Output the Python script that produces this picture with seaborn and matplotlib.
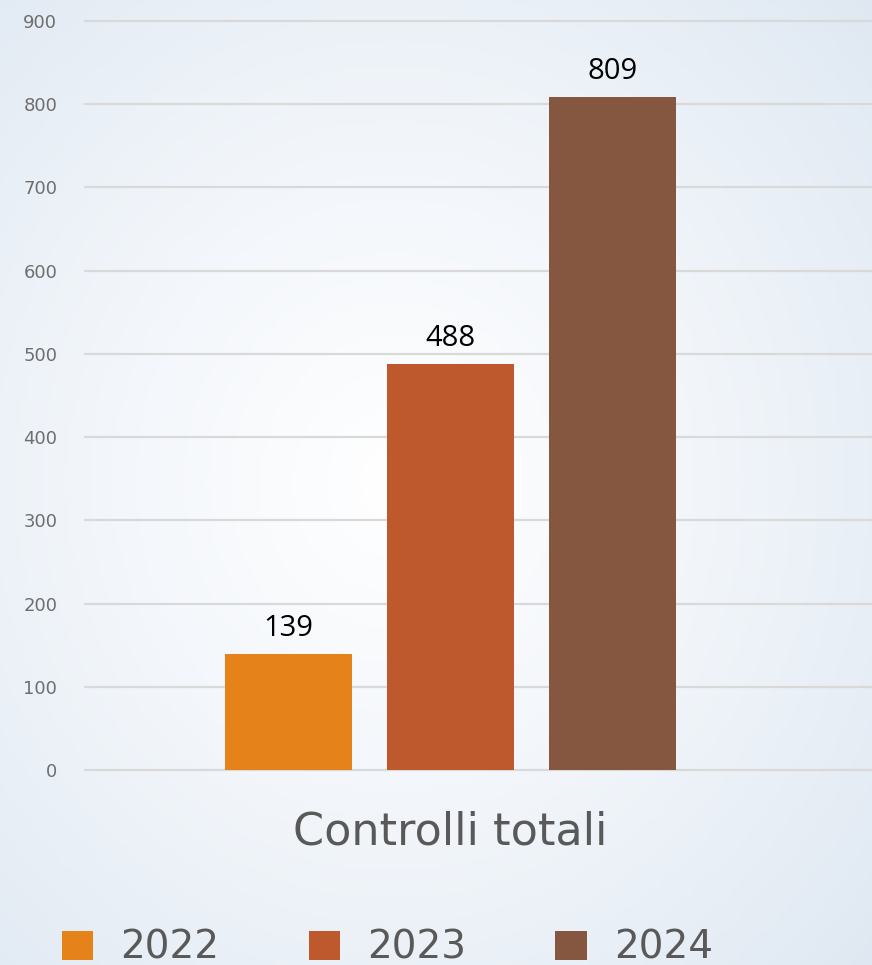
import numpy as np
import pandas as pd
import matplotlib.pyplot as plt
import seaborn as sns

# data
category = ["Controlli totali"]
years = ["2022", "2023", "2024"]
values = [139, 488, 809]
colors = ["#E5821A", "#BE592D", "#855640"]

df = pd.DataFrame({
    "categoria": category * len(years),
    "anno": years,
    "controlli": values,
})

sns.set_theme(style="white")
plt.rcParams["font.family"] = ["DejaVu Sans"]

fig = plt.figure(figsize=(8.72, 9.65), dpi=100)

# soft blue-white background gradient
bg = fig.add_axes([0, 0, 1, 1], zorder=-10)
yy, xx = np.mgrid[0:1:200j, 0:1:200j]
dist = np.sqrt((xx - 0.45) ** 2 + (yy - 0.5) ** 2)
bg.imshow(dist, cmap=sns.blend_palette(["#ffffff", "#f1f5fa", "#dfe8f2"], as_cmap=True),
          extent=[0, 1, 0, 1], aspect="auto", vmin=0, vmax=0.75)
bg.axis("off")

ax = fig.add_axes([0.0975, 0.2021, 0.9025, 0.7761])
ax.patch.set_alpha(0)

sns.barplot(data=df, x="categoria", y="controlli", hue="anno", palette=colors,
            width=0.8, gap=0.216, saturation=1, linewidth=0, ax=ax)

for cont in ax.containers:
    ax.bar_label(cont, padding=8, fontsize=21, color="black",
                 family=["Open Sans", "DejaVu Sans"])

ax.set_ylim(0, 900)
ax.set_xlim(-0.6017, 0.6938)
ax.set_yticks(range(0, 901, 100))
ax.yaxis.grid(True, color="#d9d9d9", linewidth=1.6)
for gl in ax.get_ygridlines():
    gl.set_clip_on(False)
ax.set_axisbelow(True)
for s in ax.spines.values():
    s.set_visible(False)
ax.set_xlabel("")
ax.set_ylabel("")
ax.tick_params(axis="y", length=0, pad=20, labelsize=13, labelcolor="#6e6e6e")
ax.tick_params(axis="x", length=0, pad=29, labelsize=32, labelcolor="#595959")

sns.move_legend(ax, "lower left", bbox_to_anchor=(0.071, -0.002),
                bbox_transform=fig.transFigure, ncol=3, frameon=False,
                title=None, fontsize=28, labelcolor="#595959",
                handlelength=0.8, handleheight=0.8, handletextpad=0.7,
                columnspacing=2.3, borderpad=0, borderaxespad=0)

fig.savefig("out.png", dpi=100)
